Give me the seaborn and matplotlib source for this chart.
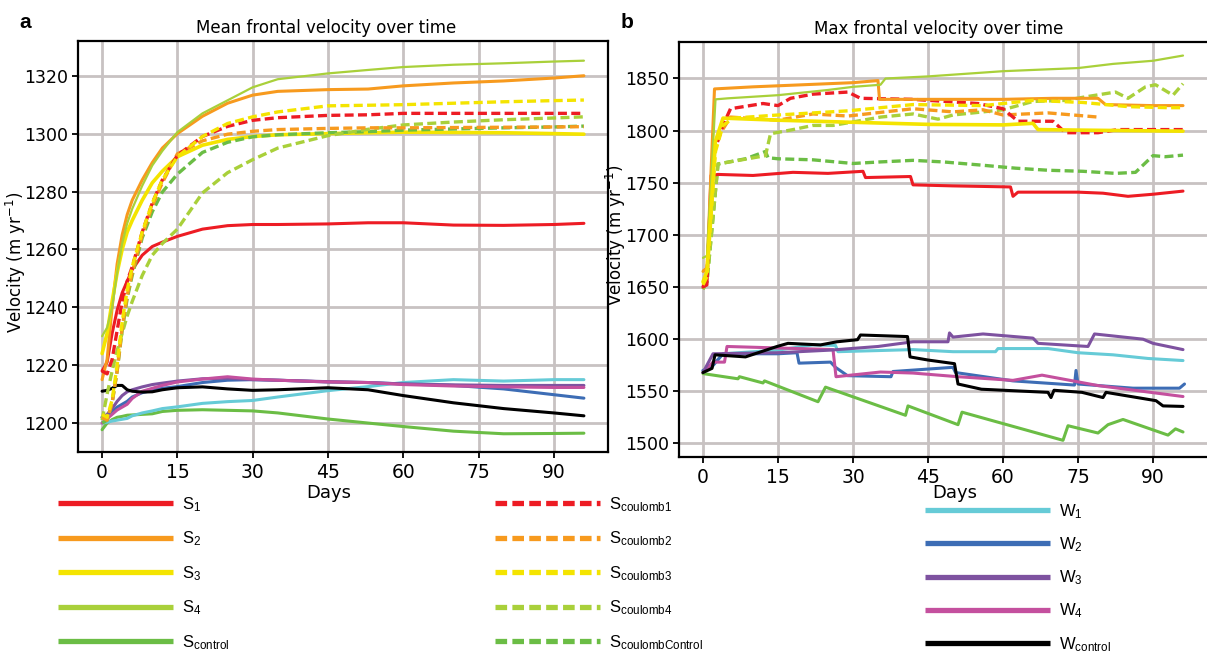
import matplotlib
matplotlib.use("Agg")
import matplotlib.pyplot as plt
from matplotlib.lines import Line2D
import seaborn as sns

# ---------------- data: panel a (mean frontal velocity) ----------------
days_a = [0, 1, 2, 3, 4, 5, 6, 8, 10, 12, 15, 20, 25, 30, 35, 45, 53, 60, 70, 80, 90, 96]

s1_a = [1218, 1221, 1231, 1239, 1245, 1249, 1253, 1258, 1261, 1262.5, 1264.5, 1267, 1268.2, 1268.6,
        1268.6, 1268.8, 1269.2, 1269.2, 1268.4, 1268.3, 1268.6, 1269]
s2_a = [1215, 1222, 1240, 1255, 1265, 1272, 1277, 1284, 1290, 1295, 1300, 1306, 1310.5, 1313.3,
        1314.6, 1315.2, 1315.4, 1316.5, 1317.5, 1318.2, 1319.2, 1320]
s3_a = [1224, 1231, 1242, 1252, 1260, 1266, 1270, 1277, 1283, 1287, 1292, 1296, 1298, 1299,
        1299.6, 1300, 1300.3, 1300.5, 1300.4, 1300.3, 1300, 1299.8]
s4_a = [1230, 1233, 1240, 1252, 1262, 1269, 1274, 1282, 1289, 1294, 1300.5, 1307, 1311.5, 1316,
        1318.8, 1320.8, 1322, 1323, 1323.8, 1324.3, 1324.9, 1325.2]
sctl_a = [1197.7, 1200, 1201.2, 1202, 1202.3, 1202.7, 1202.8, 1203, 1203.2, 1204, 1204.4, 1204.6,
          1204.4, 1204.2, 1203.5, 1201.4, 1200, 1198.8, 1197.2, 1196.3, 1196.4, 1196.5]
sc1_a = [1218, 1217, 1222, 1232, 1242, 1249, 1254, 1266, 1276, 1284, 1292.5, 1299, 1302.5, 1304.6,
         1305.5, 1306.3, 1306.5, 1307, 1307, 1307, 1307, 1307]
sc2_a = [1202, 1201, 1207, 1218, 1233, 1244, 1252, 1265, 1275, 1283, 1293, 1297.5, 1299.8, 1300.8,
         1301.4, 1301.8, 1302, 1302, 1302.1, 1302.2, 1302.3, 1302.4]
sc3_a = [1203, 1202, 1208, 1220, 1235, 1246, 1254, 1266, 1276, 1284, 1292, 1299, 1303.5, 1305.8,
         1307.5, 1309.6, 1309.8, 1310, 1310.5, 1311, 1311.4, 1311.6]
sc4_a = [1201, 1210, 1218, 1225, 1231, 1237, 1242, 1251, 1258, 1262, 1267, 1279.5, 1286.5, 1291,
         1295, 1299.3, 1301.5, 1303, 1304, 1304.8, 1305.4, 1305.8]
scctl_a = [1200, 1201, 1207, 1218, 1232, 1243, 1251, 1264, 1273, 1279.8, 1286, 1293.5, 1297, 1298.9,
           1299.6, 1300.3, 1300.7, 1301.2, 1301.6, 1302, 1302.3, 1302.6]
w1_a = [1200, 1200.3, 1200.7, 1201, 1201.3, 1201.6, 1202.5, 1203.5, 1204.2, 1205, 1205.6, 1206.8,
        1207.4, 1207.8, 1209, 1211.2, 1212.6, 1214, 1215, 1214.5, 1215, 1215]
w2_a = [1202, 1202.5, 1204, 1205.5, 1206.5, 1207.5, 1209, 1210.5, 1211.3, 1212, 1212.6, 1214,
        1214.8, 1215, 1214.8, 1214.2, 1214, 1213.5, 1213, 1211.8, 1209.8, 1208.6]
w3_a = [1202, 1203, 1205, 1207.5, 1209.5, 1210.8, 1211.5, 1212.5, 1213.3, 1213.8, 1214.5, 1215.3,
        1215.5, 1215, 1214.8, 1214.3, 1214, 1213.5, 1213.2, 1213, 1213, 1213]
w4_a = [1200, 1201.5, 1203, 1204.5, 1205.5, 1206.5, 1208.5, 1211, 1212, 1213, 1214.2, 1215.2,
        1216, 1215.2, 1214.8, 1214.2, 1214, 1213.3, 1212.8, 1212.5, 1212.3, 1212.3]
wctl_a = [1211, 1211.3, 1212, 1213, 1213, 1211.5, 1211, 1210.7, 1210.8, 1211.5, 1212.2, 1212.5,
          1211.8, 1211.3, 1211.5, 1212.2, 1211.5, 1209.5, 1207, 1205, 1203.5, 1202.5]

# ---------------- data: panel b (max frontal velocity) ----------------
s1_b_days = [0, 0.8, 1.6, 3, 10, 18, 25, 32, 32.5, 41.5, 42, 50, 61.5, 62, 63, 75, 80, 85, 90, 96]
s1_b = [1650, 1652, 1757, 1758, 1757, 1760, 1759, 1761, 1755, 1756, 1748, 1747, 1746, 1737, 1741,
        1741, 1740, 1737, 1739, 1742]
s2_b_days = [0, 0.8, 2.3, 10, 20, 30, 35, 35.3, 45, 60, 70, 79, 80.5, 90, 96]
s2_b = [1665, 1668, 1840, 1842, 1844, 1846, 1848, 1830, 1830, 1830, 1831, 1831, 1825, 1824, 1824]
s3_b_days = [0, 0.8, 2.5, 4, 15, 30, 45, 60, 66, 67, 75, 85, 96]
s3_b = [1655, 1665, 1790, 1812, 1810, 1808, 1806, 1805.5, 1807, 1801, 1800.5, 1800, 1799.5]
s4_b_days = [0, 0.8, 2.5, 5, 15, 25, 30, 35.5, 36.5, 45, 60, 75, 82, 90, 96]
s4_b = [1678, 1680, 1830, 1831, 1834, 1839, 1842, 1844, 1850, 1852, 1857, 1860, 1864, 1867, 1872]
sctl_b_days = [0, 7, 7.3, 12, 12.3, 23, 24.5, 40.5, 41, 51, 51.8, 72, 73, 79, 81, 84, 93, 94.5, 96]
sctl_b = [1567, 1562, 1564, 1558, 1560, 1540, 1554, 1527, 1536, 1518, 1530, 1503, 1517, 1510, 1518,
          1523, 1508, 1514, 1511]
sc1_b_days = [0, 0.8, 2, 4, 5.5, 12, 15, 17.5, 22, 29, 31.5, 42, 55, 60, 63, 70, 72.5, 79, 83, 96]
sc1_b = [1650, 1660, 1776, 1805, 1821, 1826, 1824, 1831, 1835, 1837, 1831, 1830, 1826, 1821, 1809,
         1809, 1798, 1798, 1801, 1801]
sc2_b_days = [0, 0.8, 2.5, 5.5, 15, 22, 29, 42, 50, 56, 60, 69, 79]
sc2_b = [1665, 1668, 1790, 1813, 1810, 1816, 1814, 1821, 1818, 1820, 1815, 1817, 1813]
sc3_b_days = [0, 0.8, 2.5, 4, 6, 15, 29, 42, 56, 66, 76, 85, 93, 96]
sc3_b = [1652, 1660, 1780, 1805, 1812, 1815, 1819, 1825, 1824, 1829, 1827, 1823, 1822, 1822]
sc4_b_days = [0, 0.8, 3, 12.5, 13.5, 18, 22, 26, 35.5, 42, 47, 50, 60, 66, 72.5, 76, 82.5, 85,
              88.5, 90.5, 94, 96]
sc4_b = [1648, 1655, 1768, 1776, 1797, 1801, 1805, 1805, 1813, 1816, 1811, 1815, 1820, 1828, 1829,
         1832, 1837, 1831, 1842, 1844, 1834, 1845]
scctl_b_days = [0, 0.8, 3, 8.5, 12.5, 13, 15, 22, 30, 35.5, 42, 48, 55.5, 62.5, 69, 76, 82.5, 86.5,
                90, 92.5, 96]
scctl_b = [1648, 1655, 1768, 1773, 1780, 1774, 1773, 1772, 1768.5, 1770, 1771.5, 1770, 1767, 1764,
           1762, 1761, 1759, 1760, 1776, 1775, 1776.5]
w1_b_days = [0, 1.5, 4, 15, 22, 26.5, 27, 42, 50, 58.5, 59, 69, 75, 82, 89, 96]
w1_b = [1570, 1572, 1586, 1589.5, 1594.5, 1594, 1588, 1590, 1588, 1588, 1591, 1591, 1587, 1585,
        1581.5, 1579.5]
w2_b_days = [0, 1.5, 4, 15, 18.8, 19.2, 25.5, 26.5, 28.9, 37.6, 38, 47, 50, 50.5, 62, 74.3, 74.6,
             75, 86, 95.3, 96.3]
w2_b = [1570, 1572, 1586, 1586, 1587, 1577, 1578, 1573, 1565, 1564, 1569, 1572, 1573, 1568, 1560,
        1556, 1570, 1557, 1553, 1553, 1557]
w3_b_days = [0, 2, 15, 25.5, 35, 42, 49, 49.3, 50, 56, 66, 67, 77, 78.3, 88, 90, 96]
w3_b = [1568, 1586, 1587, 1589.5, 1593, 1597.5, 1597.5, 1606, 1602, 1605, 1601, 1596, 1593, 1605,
        1600, 1596, 1590]
w4_b_days = [0, 2, 4.3, 4.8, 26, 26.6, 35.5, 42, 51, 62, 67.8, 79, 96]
w4_b = [1568, 1578, 1578, 1593, 1590, 1564, 1568.5, 1567.5, 1564, 1560.5, 1565.5, 1555.5, 1545]
wctl_b_days = [0, 1.8, 2.4, 8.5, 14.8, 17, 23.5, 26.8, 30.9, 31.5, 40.9, 41.4, 45, 50.3, 51, 55.7,
               69, 69.6, 70.2, 75.8, 80, 80.6, 90.6, 92, 96]
wctl_b = [1568, 1572, 1585, 1583, 1593, 1596, 1594.5, 1597.5, 1599.5, 1604, 1602.5, 1583, 1580,
          1576.5, 1557, 1552, 1549, 1544, 1551, 1549, 1544, 1549, 1541, 1536, 1535.5]

# colours
RED = '#ED1C24'
ORANGE = '#F79A1E'
YELLOW = '#F4E400'
YGREEN = '#A9D03A'
GREEN = '#6BBD45'
CYAN = '#66CBD7'
BLUE = '#3D6DB5'
PURPLE = '#7E52A0'
MAGENTA = '#C4509E'
BLACK = '#000000'

DASH = (0, (2.7, 1.3))


def draw(ax, x, y, color, lw=2.2, dashed=False, z=2):
    sns.lineplot(x=x, y=y, ax=ax, color=color, lw=lw, linestyle=DASH if dashed else '-',
                 sort=False, estimator=None, zorder=z)


def style_axes(ax, ylim, yticks, title, title_x, label_pos, days_x):
    ax.set_xlim(-4.8, 100.8)
    ax.set_ylim(*ylim)
    ax.set_xticks(range(0, 91, 15))
    ax.set_yticks(yticks)
    ax.grid(True, color='#C8C2C2', lw=2)
    ax.set_axisbelow(True)
    for sp in ax.spines.values():
        sp.set_visible(True)
        sp.set_color('black')
        sp.set_linewidth(1.6)
    ax.tick_params(axis='both', direction='out', length=4, width=1.3, color='black',
                   labelcolor='black', bottom=True, left=True)
    ax.tick_params(axis='x', labelsize=13.5, pad=4)
    ax.tick_params(axis='y', labelsize=12.5, pad=3)
    ax.set_title(title, fontsize=12, x=title_x, pad=6, color='black')
    ax.set_xlabel('Days', fontsize=13, color='black')
    ax.set_ylabel('Velocity (m yr$^{-1}$)', fontsize=12, color='black')
    ax.xaxis.set_label_coords(days_x, label_pos[1])
    ax.yaxis.set_label_coords(label_pos[0], label_pos[2])


sns.set_theme(style='white')
plt.rcParams['font.family'] = ['DejaVu Sans']

fig = plt.figure(figsize=(12.07, 6.57), dpi=100)
ax_a = fig.add_axes([78 / 1207, 1 - 452 / 657, 530 / 1207, 411 / 657])
ax_b = fig.add_axes([679 / 1207, 1 - 457 / 657, 528 / 1207, 415 / 657])

# panel a
for vals, col in [(sctl_a, GREEN), (w1_a, CYAN), (w2_a, BLUE), (w3_a, PURPLE), (w4_a, MAGENTA),
                  (wctl_a, BLACK), (s1_a, RED), (s2_a, ORANGE)]:
    draw(ax_a, days_a, vals, col)
draw(ax_a, days_a, s3_a, YELLOW, lw=2.6)
draw(ax_a, days_a, s4_a, YGREEN, lw=1.6)
for vals, col in [(scctl_a, GREEN), (sc4_a, YGREEN), (sc2_a, ORANGE), (sc1_a, RED), (sc3_a, YELLOW)]:
    draw(ax_a, days_a, vals, col, lw=2.4, dashed=True)

# panel b
draw(ax_b, sctl_b_days, sctl_b, GREEN)
draw(ax_b, w1_b_days, w1_b, CYAN)
draw(ax_b, w2_b_days, w2_b, BLUE)
draw(ax_b, w4_b_days, w4_b, MAGENTA)
draw(ax_b, w3_b_days, w3_b, PURPLE)
draw(ax_b, wctl_b_days, wctl_b, BLACK)
draw(ax_b, scctl_b_days, scctl_b, GREEN, lw=2.4, dashed=True)
draw(ax_b, sc4_b_days, sc4_b, YGREEN, lw=2.4, dashed=True)
draw(ax_b, s1_b_days, s1_b, RED)
draw(ax_b, sc2_b_days, sc2_b, ORANGE, lw=2.4, dashed=True)
draw(ax_b, sc1_b_days, sc1_b, RED, lw=2.4, dashed=True)
draw(ax_b, s2_b_days, s2_b, ORANGE)
draw(ax_b, s4_b_days, s4_b, YGREEN, lw=1.6)
draw(ax_b, sc3_b_days, sc3_b, YELLOW, lw=2.4, dashed=True)
draw(ax_b, s3_b_days, s3_b, YELLOW, lw=2.6)

style_axes(ax_a, (1190, 1332), range(1200, 1321, 20), 'Mean frontal velocity over time',
           0.468, (-0.095, -0.078, 0.462), 0.474)
style_axes(ax_b, (1487, 1885), range(1500, 1851, 50), 'Max frontal velocity over time',
           0.492, (-0.097, -0.065, 0.535), 0.523)
# the right border of panel b falls on the cropped edge of the figure
ax_b.spines['right'].set_visible(False)

fig.text(19 / 1207, 1 - 28 / 657, 'a', fontsize=15, fontweight='bold', family='Liberation Sans',
         color='black')
fig.text(621 / 1207, 1 - 28 / 657, 'b', fontsize=15, fontweight='bold', family='Liberation Sans',
         color='black')

# legends
leg_font = {'family': ['Liberation Sans Narrow', 'Liberation Sans'], 'size': 12}


def make_legend(entries, x0, y0, hlen, dashed, spacing=0.95):
    handles = []
    labels = []
    for lab, col in entries:
        if dashed:
            h = Line2D([], [], color=col, lw=3.8, dashes=(2.2, 1.0))
        else:
            h = Line2D([], [], color=col, lw=3.8, solid_capstyle='butt')
        handles.append(h)
        labels.append(lab)
    leg = fig.legend(handles, labels, loc='upper left', bbox_to_anchor=(x0 / 1207, 1 - y0 / 657),
                     frameon=False, handlelength=hlen, handletextpad=0.55, labelspacing=spacing,
                     borderpad=0, borderaxespad=0, prop=leg_font)
    for t in leg.get_texts():
        t.set_color('black')


make_legend([(r'$\mathregular{S_{1}}$', RED), (r'$\mathregular{S_{2}}$', ORANGE),
             (r'$\mathregular{S_{3}}$', YELLOW), (r'$\mathregular{S_{4}}$', YGREEN),
             (r'$\mathregular{S_{control}}$', GREEN)], 58, 495, 6.9, False)
make_legend([(r'$\mathregular{S_{coulomb1}}$', RED), (r'$\mathregular{S_{coulomb2}}$', ORANGE),
             (r'$\mathregular{S_{coulomb3}}$', YELLOW), (r'$\mathregular{S_{coulomb4}}$', YGREEN),
             (r'$\mathregular{S_{coulombControl}}$', GREEN)], 495, 495, 6.3, True)
make_legend([(r'$\mathregular{W_{1}}$', CYAN), (r'$\mathregular{W_{2}}$', BLUE),
             (r'$\mathregular{W_{3}}$', PURPLE), (r'$\mathregular{W_{4}}$', MAGENTA),
             (r'$\mathregular{W_{control}}$', BLACK)], 925, 502, 7.5, False, spacing=0.87)

fig.savefig('out.png', dpi=100)
